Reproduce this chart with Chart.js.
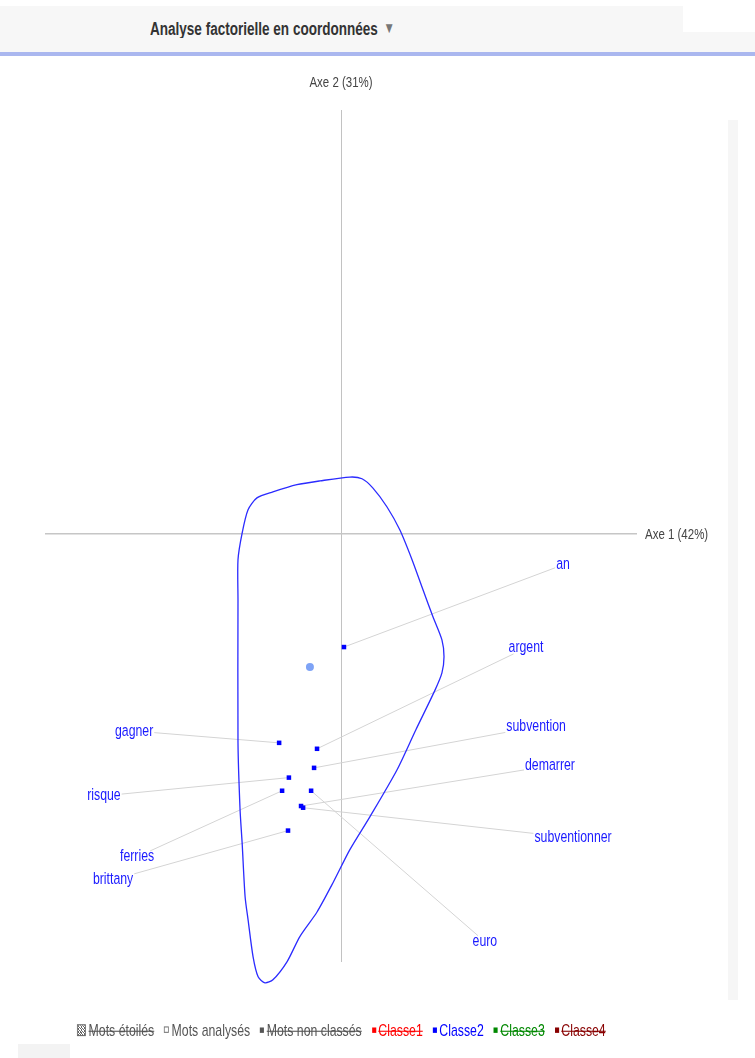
<!DOCTYPE html>
<html lang="fr">
<head>
<meta charset="utf-8">
<title>Analyse factorielle en coordonnées</title>
<script src="https://cdn.jsdelivr.net/npm/chart.js@4.4.1/dist/chart.umd.min.js"></script>
<style>
  html, body { margin: 0; padding: 0; background: #fff; }
  body { position: relative; width: 755px; height: 1058px; overflow: hidden;
         font-family: "Liberation Sans", Arial, sans-serif; }
  #bar { position: absolute; left: 0; top: 6px; width: 683px; height: 46px; background: #f7f7f7; }
  #barRight { position: absolute; left: 683px; top: 32px; width: 72px; height: 20px; background: #f7f7f7; }
  #rule { position: absolute; left: 0; top: 52px; width: 755px; height: 4px; background: #aab7ef; }
  /* narrow lettering: regular face squeezed horizontally, a little taller */
  #title { position: absolute; left: 150px; top: 18px; font-size: 16.5px; font-weight: bold; color: #333;
           white-space: nowrap; transform: scale(0.82, 1.1); transform-origin: 0 0; }
  #title .arrow { color: #777; font-size: 14px; margin-left: 7px; vertical-align: 1px; }
  #plot { position: absolute; left: 0; top: 58px; }
  #scroll { position: absolute; left: 728px; top: 120px; width: 10px; height: 880px; background: #f6f6f6; }
  #corner { position: absolute; left: 18px; top: 1044px; width: 52px; height: 14px; background: #f3f3f3; }
  #legend { position: absolute; left: 0; top: 1021px; width: 683px; text-align: center; font-size: 15px;
            white-space: nowrap; transform: scale(0.82, 1.08); transform-origin: 341px 0; }
  #legend span { margin: 0 4px; }
  #legend .off { text-decoration: line-through; }
  #legend i { display: inline-block; width: 5px; height: 5px; margin-right: 3px; vertical-align: 3px; }
  #legend i.star { width: 9px; height: 9px; border: 1px solid #666; vertical-align: 0;
                   background: repeating-linear-gradient(45deg, #666 0 1px, #fff 1px 2px); }
  #legend i.hollow { width: 4px; height: 4px; border: 1px solid #777; }
</style>
</head>
<body>
<div id="bar"></div>
<div id="barRight"></div>
<div id="rule"></div>
<div id="title">Analyse factorielle en coordonnées<span class="arrow">▼</span></div>
<canvas id="plot" width="755" height="1000"></canvas>
<div id="scroll"></div>
<div id="corner"></div>
<div id="legend">
  <span class="off" style="color:#555"><i class="star"></i>Mots étoilés</span>
  <span style="color:#555"><i class="hollow"></i>Mots analysés</span>
  <span class="off" style="color:#555"><i style="background:#555"></i>Mots non classés</span>
  <span class="off" style="color:#f00"><i style="background:#f00"></i>Classe1</span>
  <span style="color:#00f"><i style="background:#00f"></i>Classe2</span>
  <span class="off" style="color:#080"><i style="background:#080"></i>Classe3</span>
  <span class="off" style="color:#800"><i style="background:#800"></i>Classe4</span>
</div>
<script>
// words of Classe2 and their coordinates on the two factorial axes
const words = ['an', 'argent', 'subvention', 'demarrer', 'subventionner', 'euro', 'gagner', 'risque', 'ferries', 'brittany'];
const axis1 = [0.010, -0.081, -0.091, -0.135, -0.128, -0.101, -0.209, -0.176, -0.199, -0.179];
const axis2 = [-0.267, -0.507, -0.552, -0.642, -0.646, -0.606, -0.493, -0.575, -0.606, -0.700];

// where each word's label sits (text centre)
const labelAxis1 = [0.750, 0.625, 0.659, 0.706, 0.784, 0.486, -0.699, -0.801, -0.689, -0.770];
const labelAxis2 = [-0.073, -0.269, -0.455, -0.547, -0.717, -0.962, -0.465, -0.618, -0.762, -0.816];

// centre of the class
const centreAxis1 = [-0.105];
const centreAxis2 = [-0.314];

// outline drawn around the class
const hullAxis1 = [-0.348, -0.348, -0.341, -0.334, -0.324, -0.314, -0.297, -0.280, -0.257, -0.230,
                   -0.182, -0.139, -0.081, -0.027, 0.030, 0.098, 0.189, 0.253, 0.318, 0.341,
                   0.348, 0.341, 0.311, 0.277, 0.240, 0.199, 0.155, 0.108, 0.071, 0.030,
                   -0.071, -0.149, -0.230, -0.284, -0.314, -0.334, -0.348, -0.348];
const hullAxis2 = [-0.156, -0.493, -0.651, -0.729, -0.856, -0.910, -0.998, -1.045, -1.059, -1.052,
                   -1.009, -0.950, -0.892, -0.823, -0.745, -0.667, -0.557, -0.462, -0.368, -0.328,
                   -0.290, -0.250, -0.196, -0.132, -0.061, 0.009, 0.064, 0.108, 0.130, 0.134,
                   0.125, 0.116, 0.099, 0.085, 0.057, 0.002, -0.061, -0.156];

const axisTitles = ['Axe 1 (42%)', 'Axe 2 (31%)'];

const FONT = '"Liberation Sans", Arial, sans-serif';
const SQUEEZE = 0.82;
const STRETCH = 1.1;
const labelFont = '15px ' + FONT;

const toPoints = (xs, ys) => xs.map((v, i) => ({ x: v, y: ys[i] }));

// narrow text: the regular face drawn squeezed on x
function narrowText(ctx, text, x, y, align) {
    ctx.save();
    ctx.translate(x, y);
    ctx.scale(SQUEEZE, STRETCH);
    ctx.textAlign = align;
    ctx.fillText(text, 0, 0);
    ctx.restore();
}

// leader lines under the points, word labels and axis titles on top
const wordLabels = {
    id: 'wordLabels',
    beforeDatasetsDraw(chart) {
        const { ctx, scales: { x, y } } = chart;
        ctx.save();
        ctx.font = labelFont;
        ctx.strokeStyle = '#d4d4d4';
        ctx.lineWidth = 1;
        words.forEach((w, i) => {
            const px = x.getPixelForValue(axis1[i]);
            const py = y.getPixelForValue(axis2[i]);
            const lx = x.getPixelForValue(labelAxis1[i]);
            const ly = y.getPixelForValue(labelAxis2[i]);
            const hw = ctx.measureText(w).width * SQUEEZE / 2 + 1;
            const hh = 6;
            const dx = px - lx, dy = py - ly;
            // stop the line at the edge of the label box
            const t = Math.min(hw / Math.abs(dx || 1e-6), hh / Math.abs(dy || 1e-6));
            ctx.beginPath();
            ctx.moveTo(px, py);
            ctx.lineTo(lx + dx * t, ly + dy * t);
            ctx.stroke();
        });
        ctx.restore();
    },
    afterDatasetsDraw(chart) {
        const { ctx, chartArea, scales: { x, y } } = chart;
        ctx.save();
        ctx.font = labelFont;
        ctx.fillStyle = '#1a1aff';
        ctx.textBaseline = 'middle';
        words.forEach((w, i) => {
            narrowText(ctx, w, x.getPixelForValue(labelAxis1[i]), y.getPixelForValue(labelAxis2[i]), 'center');
        });

        ctx.font = '14px ' + FONT;
        ctx.fillStyle = '#444';
        narrowText(ctx, axisTitles[1], x.getPixelForValue(0), chartArea.top - 27, 'center');
        narrowText(ctx, axisTitles[0], chartArea.right + 8, y.getPixelForValue(0) + 1, 'left');
        ctx.restore();
    }
};

const zeroLine = (color, width) => ({
    color: c => (c.tick && c.tick.value === 0 ? color : 'rgba(0,0,0,0)'),
    lineWidth: c => (c.tick && c.tick.value === 0 ? width : 0),
    drawTicks: false
});

const ctx = document.getElementById('plot').getContext('2d');
new Chart(ctx, {
    type: 'scatter',
    data: {
        datasets: [
            {
                label: 'Classe2',
                data: toPoints(hullAxis1, hullAxis2),
                showLine: true,
                tension: 0.25,
                borderColor: '#2b2bff',
                borderWidth: 1.3,
                pointRadius: 0,
                fill: false,
                clip: false
            },
            {
                label: 'mots',
                data: toPoints(axis1, axis2),
                pointStyle: 'rect',
                pointRadius: 3.2,
                backgroundColor: '#0000ff',
                borderWidth: 0
            },
            {
                label: 'centre',
                data: toPoints(centreAxis1, centreAxis2),
                pointStyle: 'circle',
                pointRadius: 4,
                backgroundColor: '#7ea3f6',
                borderWidth: 0
            }
        ]
    },
    options: {
        responsive: false,
        animation: false,
        devicePixelRatio: 1,
        layout: { padding: { left: 45, right: 118, top: 52, bottom: 96 } },
        plugins: {
            legend: { display: false },
            tooltip: { enabled: false }
        },
        scales: {
            x: {
                type: 'linear',
                min: -1,
                max: 1,
                ticks: { display: false, stepSize: 1 },
                border: { display: false },
                grid: zeroLine('#c2c2c2', 1)
            },
            y: {
                type: 'linear',
                min: -1.01,
                max: 1,
                ticks: { display: false, stepSize: 1 },
                border: { display: false },
                grid: zeroLine('#c6c6c6', 1.5)
            }
        }
    },
    plugins: [wordLabels]
});
</script>
</body>
</html>
